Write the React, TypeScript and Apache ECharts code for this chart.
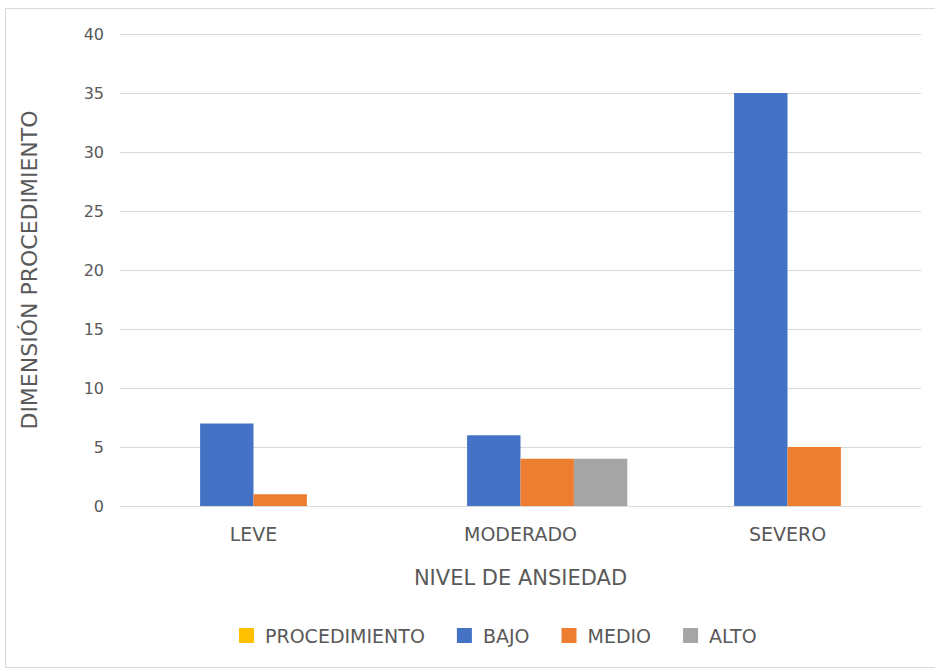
import React, { useEffect, useRef } from "react";
import * as echarts from "echarts";

const categories = ["LEVE", "MODERADO", "SEVERO"];
const seriesNames = ["PROCEDIMIENTO", "BAJO", "MEDIO", "ALTO"];
const procedimiento = [0, 0, 0];
const bajo = [7, 6, 35];
const medio = [1, 4, 5];
const alto = [0, 4, 0];
const colors = ["#FFC000", "#4472C4", "#ED7D31", "#A5A5A5"];

export default function App() {
  const ref = useRef<HTMLDivElement>(null);
  useEffect(() => {
    if (!ref.current) return;
    const chart = echarts.init(ref.current, null, { renderer: "svg" });
    const font = "'DejaVu Sans', 'Open Sans', sans-serif";
    const data = [procedimiento, bajo, medio, alto];
    chart.setOption({
      animation: false,
      backgroundColor: "#ffffff",
      textStyle: { fontFamily: font },
      graphic: [
        {
          type: "rect",
          shape: { x: 5.5, y: 8.5, width: 940, height: 659 },
          style: { fill: "none", stroke: "#d9d9d9", lineWidth: 1 },
          silent: true,
        },
      ],
      grid: { left: 120, right: 14, top: 34, bottom: 165, containLabel: false },
      legend: {
        bottom: 21,
        left: 234,
        itemWidth: 15,
        itemHeight: 15,
        itemGap: 32,
        icon: "rect",
        data: seriesNames,
        textStyle: {
          fontSize: 19,
          color: "#595959",
          fontFamily: font,
          padding: [0, 0, 0, 6],
        },
      },
      xAxis: {
        type: "category",
        data: categories,
        name: "NIVEL DE ANSIEDAD",
        nameLocation: "middle",
        nameGap: 61,
        nameTextStyle: { fontSize: 21, color: "#595959", fontFamily: font },
        axisLine: { show: true, lineStyle: { color: "#d9d9d9" } },
        axisTick: { show: false },
        axisLabel: { fontSize: 19, color: "#595959", margin: 18, fontFamily: font },
      },
      yAxis: {
        type: "value",
        min: 0,
        max: 40,
        interval: 5,
        name: "DIMENSIÓN PROCEDIMIENTO",
        nameLocation: "middle",
        nameGap: 80,
        nameRotate: 90,
        nameTextStyle: { fontSize: 22, color: "#595959", fontFamily: font },
        axisLine: { show: false },
        axisTick: { show: false },
        axisLabel: { fontSize: 16, color: "#595959", margin: 16, fontFamily: font },
        splitLine: { lineStyle: { color: "#d9d9d9", width: 1 } },
      },
      series: seriesNames.map((name, i) => ({
        name,
        type: "bar",
        data: data[i],
        barGap: "0%",
        barCategoryGap: "20%",
        itemStyle: { color: colors[i] },
      })),
    });
    return () => chart.dispose();
  }, []);
  return (
    <div
      ref={ref}
      style={{ position: "fixed", left: 0, top: 0, width: 935, height: 671 }}
    />
  );
}
